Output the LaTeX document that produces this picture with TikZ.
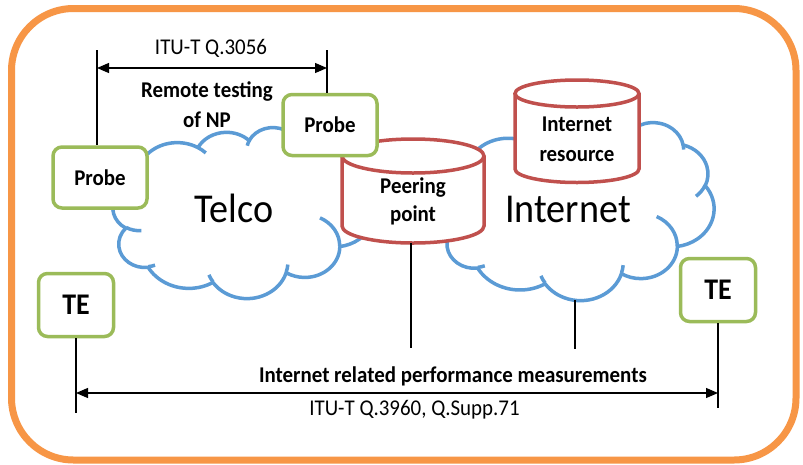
\documentclass[tikz,border=0pt]{standalone}
\usepackage{fontspec}
\setmainfont{Carlito}[FakeStretch=0.93]
\usetikzlibrary{arrows.meta}
\definecolor{orangeF}{HTML}{F79646}
\definecolor{greenF}{HTML}{9BBB59}
\definecolor{redF}{HTML}{C0504D}
\definecolor{blueF}{HTML}{5B9BD5}
\newcommand\myfs{\fontsize{22.5pt}{29pt}\selectfont}
\newcommand\mybig{\fontsize{41pt}{48pt}\selectfont}
\newcommand\myte{\fontsize{30pt}{36pt}\selectfont}
% office-style elliptical arc: radii, visual start angle, sweep
\def\oarc#1#2#3#4{arc[x radius=#1, y radius=#2, start angle={atan2((#1)*sin(#3),(#2)*cos(#3))}, delta angle={mod(atan2((#1)*sin((#3)+(#4)),(#2)*cos((#3)+(#4)))-atan2((#1)*sin(#3),(#2)*cos(#3))+720,360)}]}
\newcommand\officecloud[4]{%
 \begin{scope}[shift={(#1,#2)}, xscale=#3/432, yscale=#4/432]
  \path[cloudline, fill=white] (39,143.70)
   \oarc{67.53}{91.90}{-190.4875}{123.7805}
   \oarc{53.33}{72.67}{-144.1024}{89.9452}
   \oarc{43.65}{59.45}{-145.8079}{99.7230}
   \oarc{48.57}{65.95}{-130.9861}{117.2417}
   \oarc{53.33}{72.73}{-78.7089}{109.0269}
   \oarc{67.75}{92.20}{-46.2673}{130.2690}
   \oarc{57.85}{78.67}{0.6250}{114.0333}
   \oarc{67.52}{92.15}{22.4516}{115.1726}
   \oarc{77.20}{105.43}{66.2426}{75.7110}
   \oarc{43.60}{59.18}{-274.9421}{146.7356}
   \oarc{43.45}{59.45}{-246.8285}{152.5189} -- cycle;
  \path[cloudline]
   (46.93,261.77) \oarc{43.45}{59.45}{86.7420}{26.4295}
   (69.28,348.99) \oarc{43.60}{59.18}{73.6105}{11.4475}
   (164.78,390.90) \oarc{67.52}{92.15}{137.6242}{14.0811}
   (288.27,347.51) \oarc{67.52}{92.15}{6.4533}{15.9984}
   (341.29,229.54) \oarc{57.85}{78.67}{-70.2924}{70.9174}
   (417.98,153.54) \oarc{53.33}{72.73}{30.3180}{27.7515}
   (383.24,54.26) \oarc{48.57}{65.95}{-13.7443}{14.8589}
   (290.78,39.52) \oarc{48.57}{65.95}{-149.1815}{18.1954}
   (221.41,47.20) \oarc{43.65}{59.45}{-163.4943}{17.6864}
   (140.00,51.92) \oarc{67.53}{91.90}{-66.7070}{12.3194}
   (41.27,157.89) \oarc{67.53}{91.90}{157.6544}{11.8582};
 \end{scope}}
\newcommand\drawcyl[5]{% cx, top y, bottom y, rx, ry
 \fill[white] (#1-#4,#2) -- (#1-#4,#3) arc[start angle=180, end angle=360, x radius=#4pt, y radius=#5pt] -- (#1+#4,#2) -- cycle;
 \draw[cylline] (#1-#4,#2) -- (#1-#4,#3) arc[start angle=180, end angle=360, x radius=#4pt, y radius=#5pt] -- (#1+#4,#2);
 \draw[cylline, fill=white] (#1,#2) ellipse [x radius=#4pt, y radius=#5pt];}
\tikzset{
 cloudline/.style={draw=blueF, line width=3.5pt, line join=round},
 probebox/.style={draw=greenF, line width=3.5pt, rounded corners=9pt, fill=white, minimum width=94pt, minimum height=61pt, font=\bfseries\myfs},
 tebox/.style={draw=greenF, line width=3.5pt, rounded corners=9pt, fill=white, minimum width=75pt, minimum height=63pt, font=\bfseries\myte},
 cylline/.style={draw=redF, line width=3.5pt},
 thinline/.style={line width=1.2pt, black},
 dimarrow/.style={thinline, {Triangle[length=12pt,width=10pt]}-{Triangle[length=12pt,width=10pt]}},
 lbl/.style={font=\myfs, inner sep=0pt},
 blbl/.style={font=\bfseries\myfs, inner sep=0pt},
}
\begin{document}
\begin{tikzpicture}[x=1pt, y=-1pt]
\useasboundingbox (0,0) rectangle (803,464);
\fill[white] (0,0) rectangle (803,464);
\draw[orangeF, line width=7pt, rounded corners=62pt] (11.5,8.5) rectangle (796,460);

% clouds
\officecloud{113}{127}{262}{171}
\officecloud{441}{122}{273}{178}
\node[font=\mybig, anchor=base, inner sep=0pt] (telco) at (234,222) {Telco};
\node[font=\mybig, anchor=base, inner sep=0pt] (inet) at (568,222) {Internet};

% cylinders
\drawcyl{413}{156}{226}{71}{17}
\node[blbl, align=center, font=\bfseries\fontsize{22.5pt}{28.5pt}\selectfont] (peer) at (413,201.5) {Peering\\point};
\drawcyl{577}{93.5}{169}{62}{13.5}
\node[blbl, align=center, font=\bfseries\fontsize{22.5pt}{30.5pt}\selectfont] (res) at (577,139.5) {Internet\\resource};

% probes and terminals
\node[probebox] (probeL) at (100,177.5) {Probe};
\node[probebox] (probeT) at (330,125) {Probe};
\node[tebox] (teL) at (76,305) {TE};
\node[tebox] (teR) at (718,290) {TE};

% upper measurement
\coordinate (pLtop) at (97,50);
\coordinate (pTtop) at (327,50);
\draw[thinline] (pLtop) -- (pLtop |- probeL.north);
\draw[thinline] (pTtop) -- (pTtop |- probeT.north);
\coordinate (a1) at (97,68);
\coordinate (a2) at (327,68);
\draw[dimarrow] (a1) -- (a2);
\node[lbl, anchor=base] (q3056) at (211,54) {ITU-T Q.3056};
\node[blbl, align=center, font=\bfseries\fontsize{22.5pt}{29.7pt}\selectfont] (remote) at (207,105) {Remote testing\\of NP};

% lower measurement
\coordinate (peerB) at (411,243);
\coordinate (peerE) at (411,348);
\draw[thinline] (peerB) -- (peerE);
\coordinate (inetB) at (575,300);
\coordinate (inetE) at (575,349);
\draw[thinline] (inetB) -- (inetE);
\coordinate (teLE) at (76,413);
\coordinate (teRE) at (718,408);
\draw[thinline] (teL.south) -- (teLE);
\draw[thinline] (teR.south) -- (teRE);
\coordinate (b1) at (76,393);
\coordinate (b2) at (718,393);
\draw[dimarrow] (b1) -- (b2);
\node[blbl, anchor=base] (irpm) at (453,382) {Internet related performance measurements};
\node[lbl, anchor=base] (q3960) at (414.5,415) {ITU-T Q.3960, Q.Supp.71};
\end{tikzpicture}
\end{document}
